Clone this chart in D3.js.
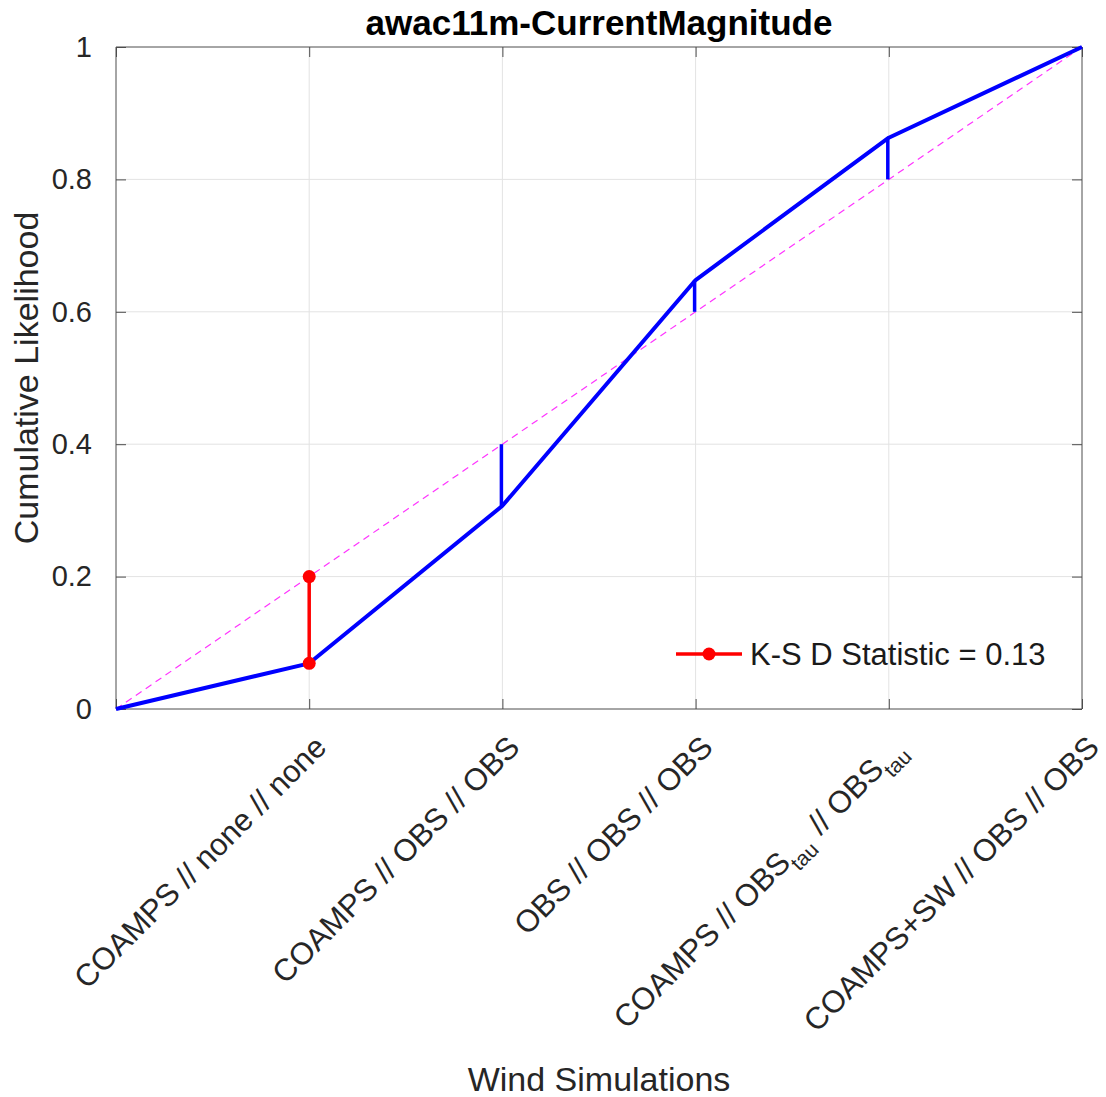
<!DOCTYPE html>
<html>
<head>
<meta charset="utf-8">
<script src="https://cdn.jsdelivr.net/npm/d3@7"></script>
<style>
  body { margin: 0; background: #fff; }
  text { font-family: "Liberation Sans", Arial, Helvetica, sans-serif; }
</style>
</head>
<body>
<div id="chart"></div>
<script>
// Data
const categories = [
    "",
    "COAMPS // none // none",
    "COAMPS // OBS // OBS",
    "OBS // OBS // OBS",
    "COAMPS // OBS_tau // OBS_tau",
    "COAMPS+SW // OBS // OBS"
];
const cdfValues = [0, 0.069, 0.307, 0.648, 0.863, 1];
const uniformValues = [0, 0.2, 0.4, 0.6, 0.8, 1];
const yTicks = [0, 0.2, 0.4, 0.6, 0.8, 1];
const ksIndex = 1;
const ksLabel = "K-S D Statistic = 0.13";

// Dimensions
const width = 1106, height = 1097;
const margin = {top: 47, right: 24, bottom: 388, left: 116};
const innerW = width - margin.left - margin.right;
const innerH = height - margin.top - margin.bottom;

const x = d3.scaleLinear().domain([0, categories.length - 1]).range([margin.left, margin.left + innerW]);
const y = d3.scaleLinear().domain([0, 1]).range([margin.top + innerH, margin.top]);

const svg = d3.select("#chart").append("svg")
    .attr("width", width)
    .attr("height", height)
    .attr("viewBox", [0, 0, width, height]);

// Grid
const grid = svg.append("g").attr("stroke", "#e3e3e3").attr("stroke-width", 1);
d3.range(1, categories.length - 1).forEach(i => {
    grid.append("line").attr("x1", x(i)).attr("x2", x(i)).attr("y1", y(0)).attr("y2", y(1));
});
yTicks.slice(1, -1).forEach(t => {
    grid.append("line").attr("x1", x(0)).attr("x2", x(5)).attr("y1", y(t)).attr("y2", y(t));
});

// Box with inward ticks on all sides
const axisColor = "#4d4d4d";
const tickLen = 10;
svg.append("g")
    .attr("transform", `translate(${margin.left},0)`)
    .call(d3.axisLeft(y).tickValues(yTicks).tickSize(-tickLen).tickPadding(24)
        .tickFormat(d => d === 0 || d === 1 ? d3.format("d")(d) : d3.format(".1f")(d)))
    .call(g => g.select(".domain").attr("stroke", axisColor).attr("d", `M0,${y(0)}V${y(1)}`))
    .call(g => g.selectAll(".tick line").attr("stroke", axisColor))
    .call(g => g.selectAll(".tick text").attr("fill", "#262626").attr("font-size", 29));

svg.append("g")
    .attr("transform", `translate(${margin.left + innerW},0)`)
    .call(d3.axisRight(y).tickValues(yTicks).tickSize(-tickLen).tickFormat(""))
    .call(g => g.select(".domain").attr("stroke", axisColor).attr("d", `M0,${y(0)}V${y(1)}`))
    .call(g => g.selectAll(".tick line").attr("stroke", axisColor));

svg.append("g")
    .attr("transform", `translate(0,${margin.top})`)
    .call(d3.axisTop(x).ticks(5).tickSize(-tickLen).tickFormat(""))
    .call(g => g.select(".domain").attr("stroke", axisColor).attr("d", `M${x(0)},0H${x(5)}`))
    .call(g => g.selectAll(".tick line").attr("stroke", axisColor));

const xAxis = svg.append("g")
    .attr("transform", `translate(0,${margin.top + innerH})`)
    .call(d3.axisBottom(x).ticks(5).tickSize(-tickLen).tickFormat(""))
    .call(g => g.select(".domain").attr("stroke", axisColor).attr("d", `M${x(0)},0H${x(5)}`))
    .call(g => g.selectAll(".tick line").attr("stroke", axisColor));

// Rotated tick labels with subscripts
categories.forEach((label, i) => {
    if (!label) return;
    const t = xAxis.append("text")
        .attr("transform", `translate(${x(i) + 19},${40}) rotate(-45)`)
        .attr("text-anchor", "end")
        .attr("fill", "#262626")
        .attr("font-size", 31);
    label.split(/(_tau)/).forEach(part => {
        if (part === "_tau") {
            t.append("tspan").attr("font-size", 21).attr("dy", 10).text("tau");
            t.append("tspan").attr("dy", -10).text("\u200a");
        } else {
            t.append("tspan").text(part);
        }
    });
});

// Uniform reference line
svg.append("path")
    .datum(uniformValues)
    .attr("fill", "none")
    .attr("stroke", "#ff33ff")
    .attr("stroke-width", 1.2)
    .attr("stroke-dasharray", "7,5")
    .attr("d", d3.line().x((d, i) => x(i)).y(d => y(d)));

// Differences
cdfValues.forEach((v, i) => {
    if (i === ksIndex || i === 0 || i === cdfValues.length - 1) return;
    svg.append("line")
        .attr("x1", x(i) - 1).attr("x2", x(i) - 1)
        .attr("y1", y(v)).attr("y2", y(uniformValues[i]))
        .attr("stroke", "#0000ff").attr("stroke-width", 3.5);
});

// CDF line
svg.append("path")
    .datum(cdfValues)
    .attr("fill", "none")
    .attr("stroke", "#0000ff")
    .attr("stroke-width", 4)
    .attr("stroke-linejoin", "round")
    .attr("d", d3.line().x((d, i) => x(i)).y(d => y(d)));

// K-S statistic
svg.append("line")
    .attr("x1", x(ksIndex)).attr("x2", x(ksIndex))
    .attr("y1", y(cdfValues[ksIndex])).attr("y2", y(uniformValues[ksIndex]))
    .attr("stroke", "#ff0000").attr("stroke-width", 3.5);
[cdfValues[ksIndex], uniformValues[ksIndex]].forEach(v => {
    svg.append("circle").attr("cx", x(ksIndex)).attr("cy", y(v)).attr("r", 6.5).attr("fill", "#ff0000");
});

// Legend
const legend = svg.append("g").attr("transform", "translate(676,654)");
legend.append("line").attr("x1", 0).attr("x2", 66).attr("stroke", "#ff0000").attr("stroke-width", 3.5);
legend.append("circle").attr("cx", 33).attr("r", 6.5).attr("fill", "#ff0000");
legend.append("text").attr("x", 74).attr("dy", "0.35em").attr("font-size", 31).attr("fill", "#1a1a1a").text(ksLabel);

// Title and axis labels
svg.append("text")
    .attr("x", x(2.5)).attr("y", 35)
    .attr("text-anchor", "middle")
    .attr("font-weight", "bold").attr("font-size", 35).attr("fill", "#000")
    .text("awac11m-CurrentMagnitude");

svg.append("text")
    .attr("transform", `translate(38,${y(0.5)}) rotate(-90)`)
    .attr("text-anchor", "middle")
    .attr("font-size", 34).attr("fill", "#262626")
    .text("Cumulative Likelihood");

svg.append("text")
    .attr("x", x(2.5)).attr("y", 1091)
    .attr("text-anchor", "middle")
    .attr("font-size", 34).attr("fill", "#262626")
    .text("Wind Simulations");
</script>
</body>
</html>
